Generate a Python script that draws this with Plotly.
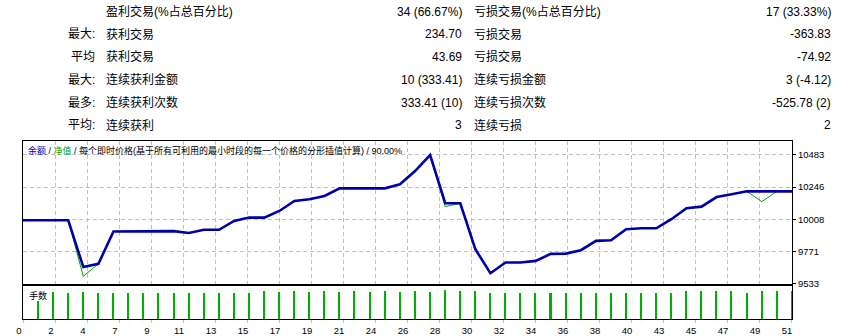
import plotly.graph_objects as go

# ---------------- data ----------------
trades = list(range(0, 52))
balance = [10000, 10000, 10000, 10000, 9655, 9678, 9917, 9917, 9917, 9920,
           9920, 9906, 9930, 9930, 9995, 10020, 10020, 10069, 10143, 10155,
           10180, 10236, 10236, 10236, 10236, 10266, 10364, 10482, 10126, 10126,
           9786, 9609, 9688, 9688, 9700, 9752, 9754, 9779, 9848, 9853,
           9934, 9941, 9941, 10008, 10089, 10101, 10172, 10192, 10214, 10214,
           10214, 10214]
equity = [10000, 10000, 10000, 10000, 9586, 9678, 9917, 9917, 9917, 9920,
          9920, 9906, 9930, 9930, 9995, 10020, 10020, 10069, 10143, 10155,
          10180, 10236, 10236, 10236, 10236, 10266, 10364, 10482, 10101, 10126,
          9786, 9609, 9688, 9688, 9700, 9752, 9754, 9779, 9848, 9853,
          9934, 9941, 9941, 10008, 10089, 10101, 10172, 10192, 10214, 10138,
          10214, 10214]
lot_trades = list(range(1, 52))
lots = [0.20, 0.31, 0.30, 0.31, 0.30, 0.30, 0.30, 0.30, 0.30, 0.30,
        0.30, 0.30, 0.30, 0.30, 0.30, 0.32, 0.31, 0.32, 0.31, 0.32,
        0.31, 0.32, 0.31, 0.32, 0.31, 0.32, 0.31, 0.33, 0.32, 0.32,
        0.30, 0.30, 0.30, 0.30, 0.30, 0.30, 0.30, 0.30, 0.30, 0.30,
        0.30, 0.30, 0.30, 0.32, 0.32, 0.32, 0.32, 0.30, 0.32, 0.32,
        0.32]

y_tick_vals = [9533, 9771, 10008, 10246, 10483]
x_tick_labels = ["0", "2", "4", "7", "9", "11", "13", "15", "17", "19", "21", "24", "26",
                 "28", "30", "32", "34", "36", "38", "40", "43", "45", "47", "49", "51"]

row_prefix = ["", "最大:", "平均", "最大:", "最多:", "平均:"]
win_labels = ["盈利交易(%占总百分比)", "获利交易", "获利交易", "连续获利金额", "连续获利次数", "连续获利"]
win_values = ["34 (66.67%)", "234.70", "43.69", "10 (333.41)", "333.41 (10)", "3"]
loss_labels = ["亏损交易(%占总百分比)", "亏损交易", "亏损交易", "连续亏损金额", "连续亏损次数", "连续亏损"]
loss_values = ["17 (33.33%)", "-363.83", "-74.92", "3 (-4.12)", "-525.78 (2)", "2"]

# ---------------- layout geometry ----------------
W, H = 848, 336
L, R, T, B = 23, 792, 141, 319
PW, PH = R - L, B - T
FONT = "Liberation Sans, Noto Sans CJK SC, sans-serif"
BLUE = "#0000a8"
GREEN = "#00a400"
GRID = "#c0c0c0"


def px(x):
    return (x - L) / PW


def py(y):
    return (B - y) / PH


main_bottom = 283.5
vol_top = 285.7
grid_step = 32.0 / (PW / 51.0)
x_tick_vals = [grid_step * i for i in range(len(x_tick_labels))]

fig = go.Figure()
fig.add_trace(go.Scatter(x=trades, y=equity, mode="lines",
                         line=dict(color=GREEN, width=1), xaxis="x", yaxis="y",
                         hoverinfo="skip"))
fig.add_trace(go.Scatter(x=trades, y=balance, mode="lines",
                         line=dict(color=BLUE, width=2.6), xaxis="x", yaxis="y",
                         hoverinfo="skip"))
fig.add_trace(go.Bar(x=lot_trades, y=lots, width=0.1, marker=dict(color="#00b000", line=dict(width=0)),
                     xaxis="x2", yaxis="y2", hoverinfo="skip"))

fig.update_layout(
    width=W, height=H,
    margin=dict(l=L, r=W - R, t=T, b=H - B, pad=0, autoexpand=False),
    paper_bgcolor="white", plot_bgcolor="white",
    showlegend=False,
    font=dict(family=FONT, size=12, color="black"),
    xaxis=dict(domain=[0, 1], range=[0, 51], anchor="y", automargin=False,
               tickvals=x_tick_vals, showticklabels=False, ticks="",
               showgrid=True, gridcolor=GRID, griddash="4px,3px", gridwidth=1,
               showline=True, linecolor="black", linewidth=1, mirror=True,
               zeroline=False, fixedrange=True),
    yaxis=dict(domain=[py(main_bottom), 1], range=[9533, 10586], anchor="x", automargin=False,
               side="right", tickvals=y_tick_vals, ticktext=[str(v) for v in y_tick_vals],
               ticks="outside", ticklen=3, tickcolor="black",
               tickfont=dict(family=FONT, size=9.5, color="black"),
               showgrid=True, gridcolor=GRID, griddash="4px,3px", gridwidth=1,
               showline=True, linecolor="black", linewidth=1, mirror=True,
               zeroline=False, fixedrange=True),
    xaxis2=dict(domain=[0, 1], range=[0, 51], anchor="y2", automargin=False,
                tickvals=x_tick_vals, ticktext=x_tick_labels,
                ticks="outside", ticklen=3, tickcolor=GRID,
                ticklabelshift=-4,
                tickfont=dict(family=FONT, size=9.5, color="black"),
                showgrid=False,
                showline=True, linecolor="black", linewidth=1, mirror=True,
                zeroline=False, fixedrange=True),
    yaxis2=dict(domain=[0, py(vol_top)], range=[0, 0.373], anchor="x2", automargin=False,
                showticklabels=False, ticks="", showgrid=False,
                showline=True, linecolor="black", linewidth=1, mirror=True,
                zeroline=False, fixedrange=True),
    bargap=0,
)

ann = []
row_y0, row_dy = 11.5, 22.75
for i in range(6):
    yy = py(row_y0 + row_dy * i)
    if row_prefix[i]:
        ann.append(dict(text=row_prefix[i], x=px(97), y=yy, xanchor="right", yanchor="middle"))
    ann.append(dict(text=win_labels[i], x=px(104), y=yy, xanchor="left", yanchor="middle"))
    ann.append(dict(text=win_values[i], x=px(464.5), y=yy, xanchor="right", yanchor="middle"))
    ann.append(dict(text=loss_labels[i], x=px(472), y=yy, xanchor="left", yanchor="middle"))
    ann.append(dict(text=loss_values[i], x=px(833.5), y=yy, xanchor="right", yanchor="middle"))

header = ("<span style='color:%s'>余额</span> / <span style='color:%s'>净值</span> / "
          "每个即时价格(基于所有可利用的最小时段的每一个价格的分形插值计算) / 90.00%%" % (BLUE, GREEN))
ann.append(dict(text=header, x=px(26), y=py(150), xanchor="left", yanchor="middle",
                font=dict(family=FONT, size=9, color="black")))
ann.append(dict(text="手数", x=px(26.5), y=py(295), xanchor="left", yanchor="middle",
                font=dict(family=FONT, size=9, color="black")))

for a in ann:
    a.setdefault("font", dict(family=FONT, size=12, color="black"))
    a.update(xref="paper", yref="paper", showarrow=False)

fig.update_layout(annotations=ann)
fig.write_html("out.html")
